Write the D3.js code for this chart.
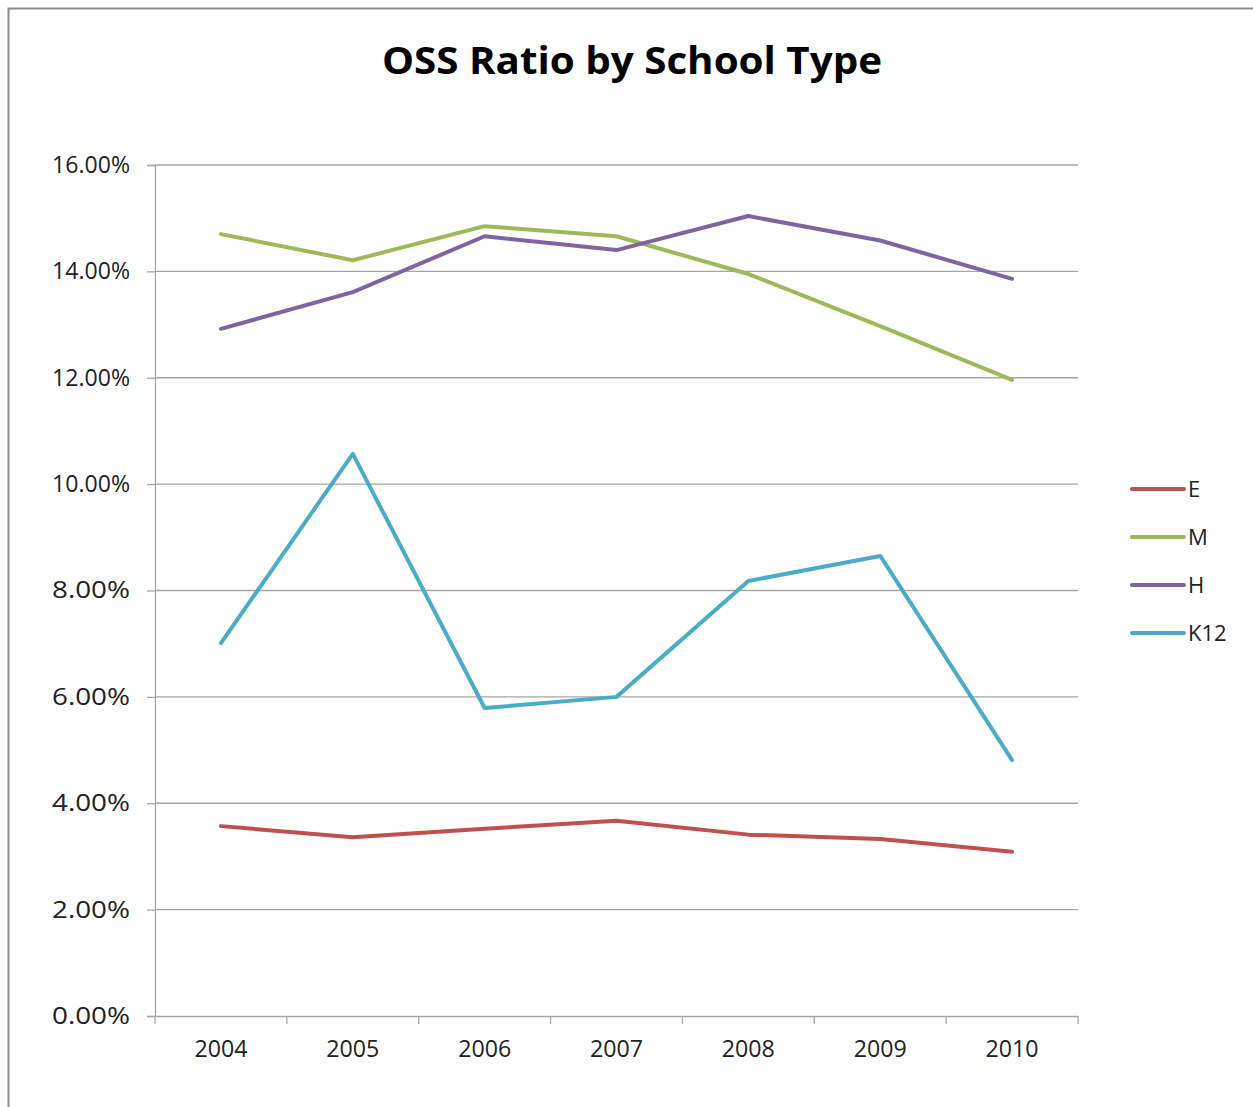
<!DOCTYPE html>
<html><head><meta charset="utf-8">
<script src="https://cdn.jsdelivr.net/npm/d3@7"></script>
<style>body{margin:0;background:#fff}svg{display:block}</style>
</head><body>
<svg id="c" width="1253" height="1107"></svg>
<script>
const years = ["2004","2005","2006","2007","2008","2009","2010"];
const seriesNames = ["E","M","H","K12"];
const E   = [3.57, 3.36, 3.52, 3.67, 3.41, 3.33, 3.09];
const M   = [14.70, 14.21, 14.85, 14.66, 13.95, 12.97, 11.96];
const H   = [12.92, 13.61, 14.66, 14.40, 15.04, 14.58, 13.86];
const K12 = [7.01, 10.57, 5.79, 6.00, 8.18, 8.65, 4.81];
const yTicks = [0,2,4,6,8,10,12,14,16];
const colors = ["#C0504D","#9BBB59","#8064A2","#4BACC6"];
const values = [E, M, H, K12];

const svg = d3.select("#c");
const font = "'Open Sans', 'Noto Sans', sans-serif";
svg.append("rect").attr("x",8.5).attr("y",8.5).attr("width",1260).attr("height",1110)
  .attr("fill","#fff").attr("stroke","#8c8c8c").attr("stroke-width",2);

const L=155, R=1078, T=165, B=1016;
const x = d3.scaleBand().domain(years).range([L,R]);
const y = d3.scaleLinear().domain([0,16]).range([B,T]);

svg.append("text").attr("x",632).attr("y",74).attr("text-anchor","middle")
  .attr("font-family",font).attr("font-weight","bold").attr("font-size",37)
  .attr("textLength",500).attr("lengthAdjust","spacingAndGlyphs")
  .text("OSS Ratio by School Type");

// gridlines
svg.append("g").selectAll("line").data(yTicks.slice(1)).join("line")
  .attr("x1",L).attr("x2",R).attr("y1",d=>y(d)).attr("y2",d=>y(d))
  .attr("stroke","#a6a6a6").attr("stroke-width",1.3);

const yAxis = svg.append("g").attr("transform",`translate(${L},0)`)
  .call(d3.axisLeft(y).tickValues(yTicks).tickSize(8).tickPadding(17).tickFormat(d=>d3.format(".2f")(d)+"%"));
yAxis.select(".domain").attr("stroke","#a6a6a6").attr("stroke-width",1.3);
yAxis.selectAll(".tick line").attr("stroke","#a6a6a6").attr("stroke-width",1.3);
yAxis.selectAll("text").attr("font-family",font).attr("font-size",23).attr("fill","#222")
  .attr("textLength",78).attr("lengthAdjust","spacingAndGlyphs");

const xAxis = svg.append("g").attr("transform",`translate(0,${B})`)
  .call(d3.axisBottom(x).tickSize(0).tickPadding(25));
xAxis.select(".domain").attr("stroke","#a6a6a6").attr("stroke-width",1.3);
xAxis.selectAll("text").attr("font-family",font).attr("font-size",23).attr("fill","#222")
  .attr("textLength",53).attr("lengthAdjust","spacingAndGlyphs");
const bounds = years.map(d=>x(d)).concat([x(years[years.length-1])+x.bandwidth()]);
xAxis.append("g").selectAll("line").data(bounds).join("line")
  .attr("x1",d=>d).attr("x2",d=>d).attr("y1",0).attr("y2",8)
  .attr("stroke","#a6a6a6").attr("stroke-width",1.3);

const line = d3.line().x((d,i)=>x(years[i])+x.bandwidth()/2).y(d=>y(d));
values.forEach((vals,k)=>{
  svg.append("path").attr("d",line(vals)).attr("fill","none")
    .attr("stroke",colors[k]).attr("stroke-width",4).attr("stroke-linejoin","round").attr("stroke-linecap","round");
});

const leg = svg.append("g");
seriesNames.forEach((n,k)=>{
  const ly = 489 + k*48;
  leg.append("line").attr("x1",1132).attr("x2",1184).attr("y1",ly).attr("y2",ly)
    .attr("stroke",colors[k]).attr("stroke-width",4).attr("stroke-linecap","round");
  leg.append("text").attr("x",1188).attr("y",ly+8).attr("font-family",font).attr("font-size",22).attr("fill","#222").text(n);
});
</script>
</body></html>
